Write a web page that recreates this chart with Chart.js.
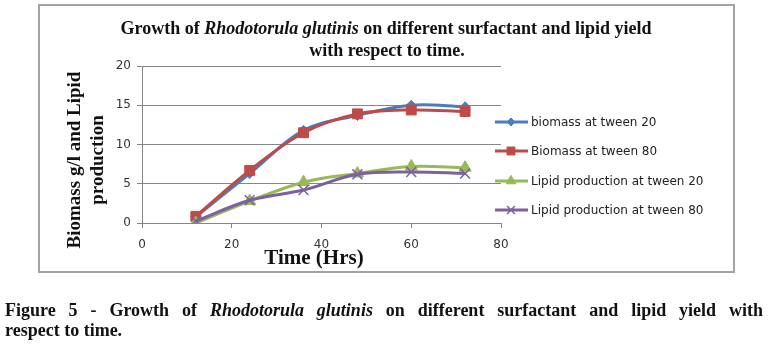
<!DOCTYPE html>
<html>
<head>
<meta charset="utf-8">
<script src="https://cdn.jsdelivr.net/npm/chart.js@4.4.1/dist/chart.umd.min.js"></script>
<style>
  html, body { margin: 0; padding: 0; background: #fff; }
  #wrap { position: relative; width: 768px; height: 345px; overflow: hidden; }
  #c { position: absolute; left: 0; top: 0; }
  .cap {
    position: absolute; left: 5px; width: 758px;
    font-family: "Liberation Serif", "Times New Roman", serif;
    font-weight: bold; font-size: 18px; line-height: 20px; color: #111;
    white-space: nowrap;
  }
  #cap1 { top: 300px; text-align: justify; text-align-last: justify; }
  #cap2 { top: 320px; text-align: left; }
</style>
</head>
<body>
<div id="wrap">
  <canvas id="c" width="768" height="345"></canvas>
  <div class="cap" id="cap1">Figure 5 - Growth of <i>Rhodotorula glutinis</i> on different surfactant and lipid yield with</div>
  <div class="cap" id="cap2">respect to time.</div>
</div>
<script>
// Sampling times (hours)
const hours = [12, 24, 36, 48, 60, 72];

// Series values
const biomassTween20 = [0.8, 6.3, 11.8, 13.7, 15.0, 14.8];
const biomassTween80 = [0.85, 6.7, 11.5, 13.9, 14.4, 14.2];
const lipidTween20   = [0.0, 2.8, 5.2, 6.3, 7.2, 7.05];
const lipidTween80   = [0.25, 2.9, 4.2, 6.2, 6.5, 6.3];

const seriesNames = [
  'biomass at tween 20',
  'Biomass at tween 80',
  'Lipid production at tween 20',
  'Lipid production at tween 80'
];

// Axis tick values
const xTicks = [0, 20, 40, 60, 80];
const yTicks = [0, 5, 10, 15, 20];

const toPoints = vals => hours.map((h, i) => ({ x: h, y: vals[i] }));

const SERIF = '"Liberation Serif", "Times New Roman", serif';
const SANS = '"DejaVu Sans", Verdana, sans-serif';

// Outer frame, titles, axis titles and the legend
const decorations = {
  id: 'decorations',
  beforeDraw(chart) {
    const ctx = chart.ctx;
    ctx.save();
    ctx.fillStyle = '#fff';
    ctx.fillRect(0, 0, chart.width, chart.height);
    ctx.strokeStyle = '#a3a3a3';
    ctx.lineWidth = 2;
    ctx.strokeRect(39, 5, 695, 267);
    ctx.restore();
  },
  afterDraw(chart) {
    const ctx = chart.ctx;
    ctx.save();
    ctx.fillStyle = '#111';
    ctx.textBaseline = 'middle';

    // chart title with an italic species name
    const segs = [
      { t: 'Growth of ', it: false },
      { t: 'Rhodotorula glutinis', it: true },
      { t: ' on different surfactant and lipid yield', it: false }
    ];
    const fnt = it => (it ? 'italic ' : '') + 'bold 18px ' + SERIF;
    let total = 0;
    segs.forEach(s => { ctx.font = fnt(s.it); s.w = ctx.measureText(s.t).width; total += s.w; });
    let x = 386 - total / 2;
    ctx.textAlign = 'left';
    segs.forEach(s => { ctx.font = fnt(s.it); ctx.fillText(s.t, x, 29); x += s.w; });
    ctx.font = fnt(false);
    ctx.textAlign = 'center';
    ctx.fillText('with respect to time.', 387, 51);

    // x axis title
    ctx.font = 'bold 21px ' + SERIF;
    ctx.fillText('Time (Hrs)', 314, 259);

    // y axis title (two lines, rotated)
    ctx.font = 'bold 19px ' + SERIF;
    [['Biomass g/l and Lipid', 75], ['production', 98]].forEach(([txt, cx]) => {
      ctx.save();
      ctx.translate(cx, 160);
      ctx.rotate(-Math.PI / 2);
      ctx.fillText(txt, 0, 0);
      ctx.restore();
    });

    // legend: line with the series marker in its middle
    const ys = [122, 151, 181, 210];
    chart.data.datasets.forEach((ds, i) => {
      const y = ys[i];
      ctx.strokeStyle = ds.borderColor;
      ctx.lineWidth = 3;
      ctx.beginPath();
      ctx.moveTo(495, y);
      ctx.lineTo(528, y);
      ctx.stroke();
      ctx.fillStyle = ds.pointBackgroundColor;
      ctx.strokeStyle = ds.pointBorderColor;
      ctx.lineWidth = ds.pointBorderWidth;
      Chart.helpers.drawPoint(ctx, {
        pointStyle: ds.pointStyle,
        radius: ds.pointRadius * 0.8,
        borderWidth: ds.pointBorderWidth,
        rotation: 0
      }, 511, y);
      ctx.fillStyle = '#222';
      ctx.font = '12px ' + SANS;
      ctx.textAlign = 'left';
      ctx.fillText(ds.label, 531, y + 1);
    });
    ctx.restore();
  }
};

const styles = [
  { color: '#4a7ebb', pointStyle: 'rectRot', r: 5, bw: 1 },
  { color: '#be4b48', pointStyle: 'rect', r: 7, bw: 1 },
  { color: '#98b954', pointStyle: 'triangle', r: 7, bw: 1 },
  { color: '#7d60a0', pointStyle: 'crossRot', r: 7, bw: 1.5 }
];
const seriesValues = [biomassTween20, biomassTween80, lipidTween20, lipidTween80];

const datasets = seriesValues.map((vals, i) => ({
  label: seriesNames[i],
  data: toPoints(vals),
  borderColor: styles[i].color,
  backgroundColor: styles[i].color,
  pointBackgroundColor: styles[i].color,
  pointBorderColor: styles[i].color,
  pointStyle: styles[i].pointStyle,
  pointRadius: styles[i].r,
  pointBorderWidth: styles[i].bw,
  borderWidth: 3,
  tension: 0.35,
  fill: false,
  order: 4 - i
}));

new Chart(document.getElementById('c'), {
  type: 'line',
  data: { datasets },
  plugins: [decorations],
  options: {
    responsive: false,
    animation: false,
    events: [],
    layout: { padding: { left: 100, top: 66, right: 267, bottom: 92 } },
    plugins: { legend: { display: false }, title: { display: false }, tooltip: { enabled: false } },
    scales: {
      x: {
        type: 'linear',
        min: 0, max: 80,
        afterBuildTicks: s => { s.ticks = xTicks.map(v => ({ value: v })); },
        afterFit: s => { s.height = 30; },
        grid: { drawOnChartArea: false, drawTicks: true, tickLength: 5, color: '#868686' },
        border: { color: '#868686', width: 1 },
        ticks: { color: '#333', font: { family: SANS, size: 12 }, padding: 10 }
      },
      y: {
        min: 0, max: 20,
        afterBuildTicks: s => { s.ticks = yTicks.map(v => ({ value: v })); },
        afterFit: s => { s.width = 42; },
        grid: { color: '#868686', drawTicks: true, tickLength: 5 },
        border: { color: '#868686', width: 1 },
        ticks: { color: '#333', font: { family: SANS, size: 12 }, padding: 6 }
      }
    }
  }
});
</script>
</body>
</html>
